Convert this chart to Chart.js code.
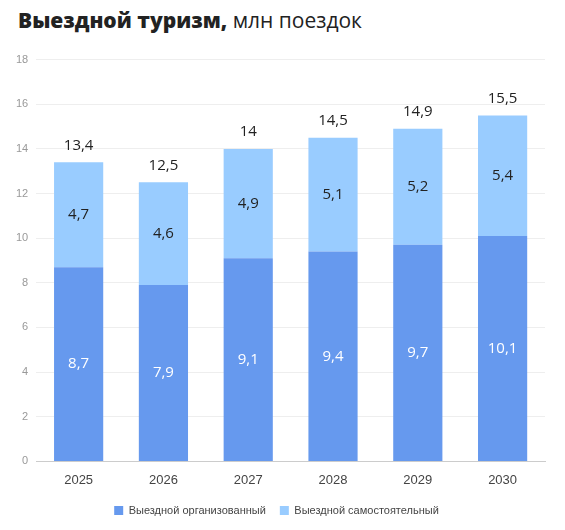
<!DOCTYPE html>
<html>
<head>
<meta charset="utf-8">
<script src="https://cdn.jsdelivr.net/npm/chart.js@4"></script>
<style>
  body { margin: 0; background: #fff; font-family: "Open Sans", sans-serif; }
  #title { position: absolute; left: 18px; top: 6px; font-size: 21px; color: #222; }
  #title b { font-weight: 800; }
  #wrap { position: absolute; left: 0; top: 45px; width: 565px; height: 485px; }
</style>
</head>
<body>
<div id="title"><b>Выездной туризм,</b> млн поездок</div>
<div id="wrap"><canvas id="chart"></canvas></div>
<script>
var years = ['2025', '2026', '2027', '2028', '2029', '2030'];
var organized = [8.7, 7.9, 9.1, 9.4, 9.7, 10.1];
var independent = [4.7, 4.6, 4.9, 5.1, 5.2, 5.4];
var totals = ['13,4', '12,5', '14', '14,5', '14,9', '15,5'];

function fmt(v) { return String(v).replace('.', ','); }

// подписи внутри сегментов и сумма над столбцом
var labelsPlugin = {
    id: 'labels',
    afterDatasetsDraw: function(chart) {
        var ctx = chart.ctx;
        ctx.save();
        ctx.textAlign = 'center';
        ctx.textBaseline = 'middle';
        ctx.font = '15px "Open Sans"';
        chart.data.datasets.forEach(function(ds, di) {
            chart.getDatasetMeta(di).data.forEach(function(bar, i) {
                ctx.fillStyle = di === 0 ? '#fff' : '#222';
                ctx.fillText(fmt(ds.data[i]), bar.x, (bar.y + bar.base) / 2);
                if (di === 1) {
                    ctx.fillStyle = '#222';
                    ctx.fillText(totals[i], bar.x, bar.y - 17);
                }
            });
        });
        ctx.restore();
    }
};

var ctx = document.getElementById('chart').getContext('2d');
new Chart(ctx, {
    type: 'bar',
    data: {
        labels: years,
        datasets: [{
            label: 'Выездной организованный',
            data: organized,
            backgroundColor: '#6699ee'
        }, {
            label: 'Выездной самостоятельный',
            data: independent,
            backgroundColor: '#99ccff'
        }]
    },
    options: {
        responsive: true,
        maintainAspectRatio: false,
        animation: false,
        layout: { padding: { left: 8, right: 20, top: 0, bottom: 4 } },
        datasets: { bar: { barPercentage: 0.58, categoryPercentage: 1 } },
        scales: {
            x: {
                stacked: true,
                grid: { display: false },
                border: { color: '#ccc' },
                ticks: { color: '#444', font: { size: 13 } }
            },
            y: {
                stacked: true,
                min: 0, max: 18,
                ticks: { stepSize: 2, color: '#999', font: { size: 11 }, padding: 8 },
                grid: { color: '#eee', drawTicks: false },
                border: { display: false }
            }
        },
        plugins: {
            legend: {
                position: 'bottom',
                labels: { boxWidth: 9, boxHeight: 9, color: '#444', font: { size: 11 }, padding: 14 }
            },
            tooltip: { enabled: false }
        }
    },
    plugins: [labelsPlugin]
});
</script>
</body>
</html>
